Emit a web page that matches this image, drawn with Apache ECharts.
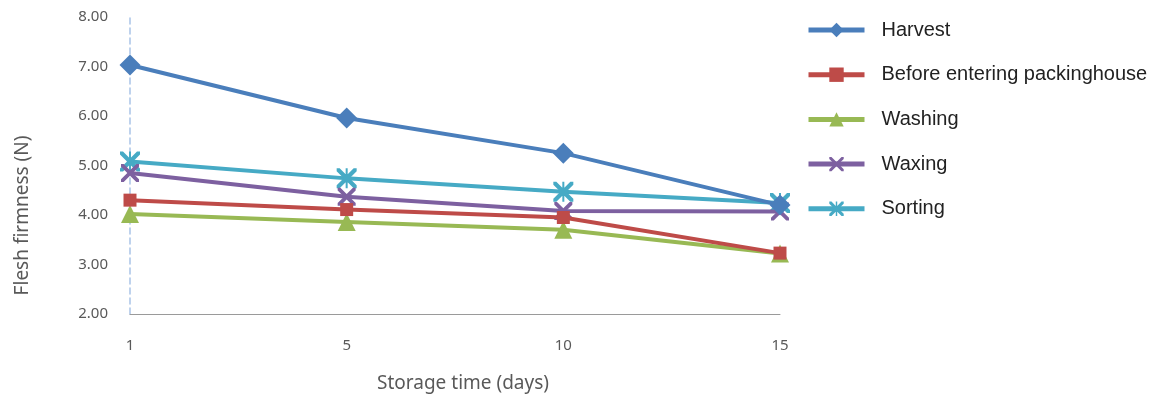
<!DOCTYPE html>
<html>
<head>
<meta charset="utf-8">
<script src="https://cdn.jsdelivr.net/npm/echarts@6/dist/echarts.min.js"></script>
<style>html,body{margin:0;padding:0;background:#fff}#c{width:1175px;height:401px}</style>
</head>
<body>
<div id="c"></div>
<script>
const categories = ['1', '5', '10', '15'];
const harvest = [7.03, 5.96, 5.25, 4.20];
const beforePackinghouse = [4.30, 4.11, 3.95, 3.23];
const washing = [4.02, 3.86, 3.70, 3.22];
const waxing = [4.85, 4.37, 4.08, 4.07];
const sorting = [5.08, 4.74, 4.47, 4.24];
const seriesNames = ['Harvest', 'Before entering packinghouse', 'Washing', 'Waxing', 'Sorting'];

const X_PATH = 'path://M0,0 L3,0 L10,7 L17,0 L20,0 L20,3 L13,10 L20,17 L20,20 L17,20 L10,13 L3,20 L0,20 L0,17 L7,10 L0,3 Z';
const STAR_PATH = 'path://M0,0 L3,0 L10,7 L17,0 L20,0 L20,3 L13,10 L20,17 L20,20 L17,20 L10,13 L3,20 L0,20 L0,17 L7,10 L0,3 Z M9,0 L11,0 L11,20 L9,20 Z';

const colors = ['#4a7ebb', '#be4b48', '#98b954', '#7d60a0', '#46aac5'];
const symbols = ['diamond', 'rect', 'triangle', X_PATH, STAR_PATH];
const sizes = [21, 13, 18, 18, 20];
const dataSets = [harvest, beforePackinghouse, washing, waxing, sorting];

const chart = echarts.init(document.getElementById('c'));
chart.setOption({
  animation: false,
  color: colors,
  grid: { left: 130, right: 395, top: 17, bottom: 87 },
  legend: {
    orient: 'vertical',
    left: 806,
    top: 20,
    padding: 0,
    itemWidth: 56,
    itemHeight: 18,
    itemGap: 24.7,
    lineStyle: { width: 5 },
    textStyle: { fontSize: 20, color: '#222', fontFamily: 'Liberation Sans', padding: [0, 0, 0, 12] },
    data: seriesNames
  },
  xAxis: {
    type: 'category',
    data: categories,
    boundaryGap: false,
    axisLine: { lineStyle: { color: '#9a9a9a', width: 1 } },
    axisTick: { show: false },
    axisLabel: { margin: 24, fontSize: 15, color: '#595959', fontFamily: 'Noto Sans' },
    name: 'Storage time (days)',
    nameLocation: 'middle',
    nameGap: 60,
    nameTextStyle: { fontSize: 19, color: '#595959', fontFamily: 'Noto Sans', padding: [0, 0, 0, 16] }
  },
  yAxis: {
    type: 'value',
    min: 2,
    max: 8,
    interval: 1,
    axisLine: { show: true, lineStyle: { color: '#a9c4e8', type: [6, 4], width: 1.5 } },
    axisTick: { show: false },
    splitLine: { show: false },
    axisLabel: { margin: 22, fontSize: 15, color: '#595959', fontFamily: 'Noto Sans', formatter: v => v.toFixed(2) },
    name: 'Flesh firmness (N)',
    nameLocation: 'middle',
    nameGap: 98,
    nameTextStyle: { fontSize: 19, color: '#595959', fontFamily: 'Noto Sans', padding: [0, 100, 0, 0] }
  },
  series: seriesNames.map((n, i) => ({
    name: n,
    type: 'line',
    data: dataSets[i],
    symbol: symbols[i],
    symbolSize: sizes[i],
    showAllSymbol: true,
    lineStyle: { width: 4, color: colors[i] },
    itemStyle: { color: colors[i] },
    z: 10 - i
  }))
});
</script>
</body>
</html>
